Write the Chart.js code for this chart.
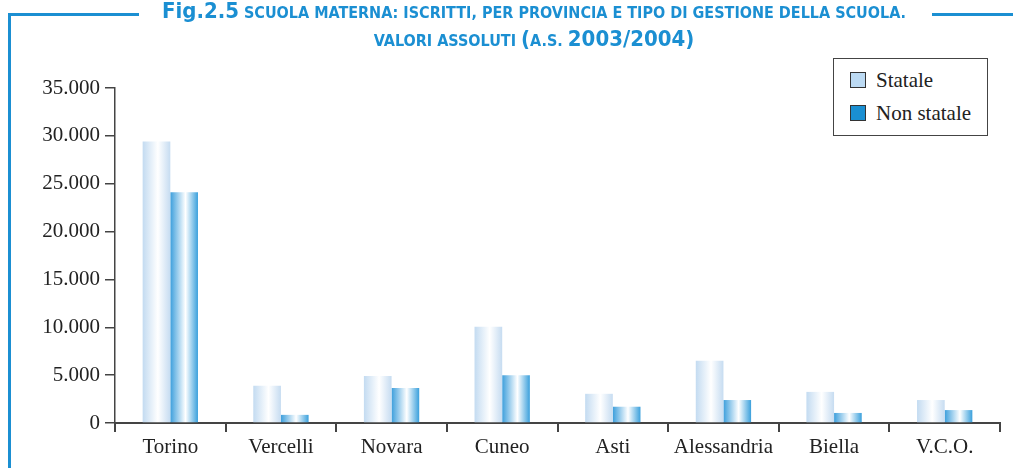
<!DOCTYPE html>
<html lang="it">
<head>
    <meta charset="UTF-8">
    <title>Fig.2.5 Scuola materna</title>
    <script src="https://cdn.jsdelivr.net/npm/chart.js"></script>
    <style>
        body {
            margin: 0;
            padding: 0;
            background: #ffffff;
        }
        .page {
            position: relative;
            width: 1013px;
            height: 468px;
            overflow: hidden;
        }
        .frame-left {
            position: absolute;
            left: 8px;
            top: 13px;
            width: 3px;
            height: 460px;
            background: #1b8fd2;
        }
        .frame-top-a {
            position: absolute;
            left: 8px;
            top: 13px;
            width: 131px;
            height: 3px;
            background: #1b8fd2;
        }
        .frame-top-b {
            position: absolute;
            left: 932px;
            top: 13px;
            width: 81px;
            height: 3px;
            background: #1b8fd2;
        }
        .title {
            position: absolute;
            left: 0;
            width: 1068px;
            text-align: center;
            color: #1b8fd2;
            font-family: "DejaVu Sans Condensed", "Liberation Sans Narrow", "DejaVu Sans", sans-serif;
            font-weight: bold;
            white-space: nowrap;
            font-size: 16px;
            line-height: 24px;
        }
        #t1 { top: -1px; }
        #t2 { top: 27px; }
        .big { font-size: 22px; }
        .chart-box {
            position: absolute;
            left: 0;
            top: 0;
            width: 1013px;
            height: 468px;
        }
        .legend {
            position: absolute;
            left: 833px;
            top: 58px;
            width: 153px;
            height: 76px;
            border: 1.5px solid #444;
            background: #fff;
            font-family: "Liberation Serif", "DejaVu Serif", serif;
            font-size: 21px;
            color: #222;
        }
        .legend div {
            position: absolute;
            left: 16px;
            height: 24px;
            line-height: 24px;
        }
        .legend span.sw {
            display: inline-block;
            width: 14px;
            height: 14px;
            border: 1.5px solid #333;
            vertical-align: -1px;
            margin-right: 10px;
        }
    </style>
</head>
<body>
<div class="page">
    <div class="chart-box"><canvas id="chart"></canvas></div>
    <div class="frame-left"></div>
    <div class="frame-top-a"></div>
    <div class="frame-top-b"></div>
    <div class="title" id="t1"><span class="big">Fig.2.5</span> SCUOLA MATERNA: ISCRITTI, PER PROVINCIA E TIPO DI GESTIONE DELLA SCUOLA.</div>
    <div class="title" id="t2">VALORI ASSOLUTI <span class="big">(</span>A.S. <span class="big">2003/2004)</span></div>
    <div class="legend">
        <div style="top: 9px;"><span class="sw" style="background:#bcdaf3"></span>Statale</div>
        <div style="top: 42px;"><span class="sw" style="background:#1a8fd2"></span>Non statale</div>
    </div>
</div>

<script>
    const CATEGORIES = ['Torino', 'Vercelli', 'Novara', 'Cuneo', 'Asti', 'Alessandria', 'Biella', 'V.C.O.'];
    const STATALE = [29400, 3900, 4900, 10050, 3050, 6500, 3250, 2400];
    const NON_STATALE = [24100, 850, 3650, 5000, 1700, 2400, 1050, 1350];
    const Y_MAX = 35000;
    const Y_STEP = 5000;

    function fmt(v) {
        return String(v).replace(/\B(?=(\d{3})+(?!\d))/g, '.');
    }

    // horizontal "cylinder" shading, computed from the x scale
    function barGradient(context, edgeL, edgeR) {
        const chart = context.chart;
        const xs = chart.scales.x;
        if (context.type !== 'data' || !xs || xs.width === undefined) return edgeL;
        const center = xs.getPixelForValue(context.dataIndex);
        const catW = xs.width / CATEGORIES.length;
        const bw = catW * 0.5 / 2;
        const x0 = context.datasetIndex === 0 ? center - bw : center;
        const g = chart.ctx.createLinearGradient(x0, 0, x0 + bw, 0);
        g.addColorStop(0, edgeL);
        g.addColorStop(0.55, '#ffffff');
        g.addColorStop(1, edgeR);
        return g;
    }

    const ctx = document.getElementById('chart').getContext('2d');
    new Chart(ctx, {
        type: 'bar',
        data: {
            labels: CATEGORIES,
            datasets: [{
                label: 'Statale',
                data: STATALE,
                backgroundColor: c => barGradient(c, '#c3dbf1', '#c6dcf1'),
                categoryPercentage: 0.5,
                barPercentage: 1.0
            }, {
                label: 'Non statale',
                data: NON_STATALE,
                backgroundColor: c => barGradient(c, '#3d9fdc', '#3aa0dc'),
                categoryPercentage: 0.5,
                barPercentage: 1.0
            }]
        },
        options: {
            responsive: true,
            maintainAspectRatio: false,
            animation: false,
            layout: { padding: { left: 0, right: 13, top: 88, bottom: 0 } },
            plugins: {
                legend: { display: false },
                title: { display: false },
                tooltip: { enabled: false }
            },
            scales: {
                x: {
                    afterFit: s => { s.height = 45; },
                    border: { display: true, color: '#444', width: 2 },
                    grid: {
                        display: true,
                        offset: true,
                        drawOnChartArea: false,
                        tickLength: 9,
                        color: '#444',
                        lineWidth: 2
                    },
                    ticks: {
                        color: '#222',
                        padding: 3,
                        font: { family: '"Liberation Serif", "DejaVu Serif", serif', size: 21 }
                    }
                },
                y: {
                    min: 0,
                    max: Y_MAX,
                    afterFit: s => { s.width = 115; },
                    border: { display: true, color: '#444', width: 1.5 },
                    grid: {
                        display: true,
                        drawOnChartArea: false,
                        tickLength: 10,
                        color: '#444',
                        lineWidth: 1.5
                    },
                    ticks: {
                        stepSize: Y_STEP,
                        color: '#222',
                        padding: 5,
                        callback: v => fmt(v),
                        font: { family: '"Liberation Serif", "DejaVu Serif", serif', size: 21 }
                    }
                }
            }
        }
    });
</script>
</body>
</html>
